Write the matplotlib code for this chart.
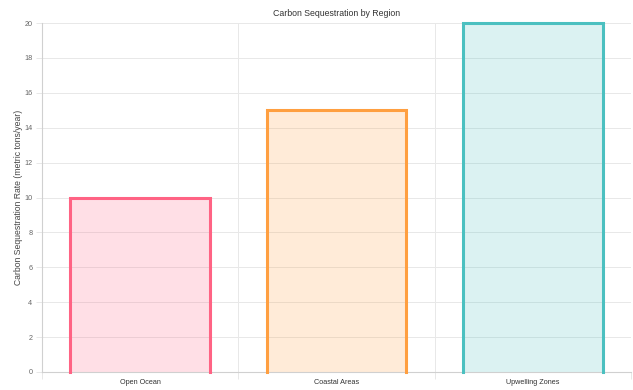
import matplotlib.pyplot as plt
from matplotlib.ticker import FixedLocator

plt.rcParams['font.family'] = ['Liberation Sans', 'DejaVu Sans']

regions = ['Open Ocean', 'Coastal Areas', 'Upwelling Zones']
rates = [10, 15, 20]
colors = [(255, 99, 132), (255, 159, 64), (75, 192, 192)]

fig = plt.figure(figsize=(6.33, 3.9), dpi=100)
W, H = 633, 390
ax = fig.add_axes([42 / W, (H - 372) / H, (631 - 42) / W, (372 - 23) / H])

x = list(range(len(regions)))
bw = 0.71
for xi, val, c in zip(x, rates, colors):
    rgb = tuple(v / 255 for v in c)
    rect = ax.bar(xi, val, width=bw, color=rgb + (0.2,), edgecolor='none', zorder=2)[0]
    x0, w = rect.get_x(), rect.get_width()
    # border on left, top and right only (no base line)
    ax.plot([x0, x0, x0 + w, x0 + w], [0, val, val, 0], color=rgb, lw=2.2,
            solid_joinstyle='miter', clip_on=False, zorder=3)

ax.set_xlim(-0.5, len(regions) - 0.5)
ax.set_ylim(0, 20)
ax.set_yticks(range(0, 21, 2))
ax.set_xticks(x)
ax.set_xticklabels(regions)
ax.xaxis.set_minor_locator(FixedLocator([i - 0.5 for i in range(len(regions) + 1)]))

grid_c = '#e8e8e8'
ax.grid(axis='y', which='major', color=grid_c, lw=0.7, alpha=1)
ax.grid(axis='x', which='minor', color=grid_c, lw=0.7, alpha=1)
ax.set_axisbelow(True)

ax.tick_params(axis='x', which='major', length=0, pad=5, labelsize=5.2, labelcolor='#333333')
ax.tick_params(axis='x', which='minor', length=5, color=grid_c, width=0.7)
ax.tick_params(axis='y', length=4, color=grid_c, width=0.7, pad=3, labelsize=5.2, labelcolor='#666666')

for side in ['top', 'right']:
    ax.spines[side].set_visible(False)
for side in ['left', 'bottom']:
    ax.spines[side].set_color('#d0d0d0')
    ax.spines[side].set_linewidth(0.8)

ax.set_ylabel('Carbon Sequestration Rate (metric tons/year)', fontsize=6.2, color='#444444', labelpad=1)
fig.text((42 + 631) / 2 / W, 1 - 13 / H, 'Carbon Sequestration by Region', ha='center', va='center',
         fontsize=6.3, color='#333333')

fig.savefig('out.png', dpi=100)
